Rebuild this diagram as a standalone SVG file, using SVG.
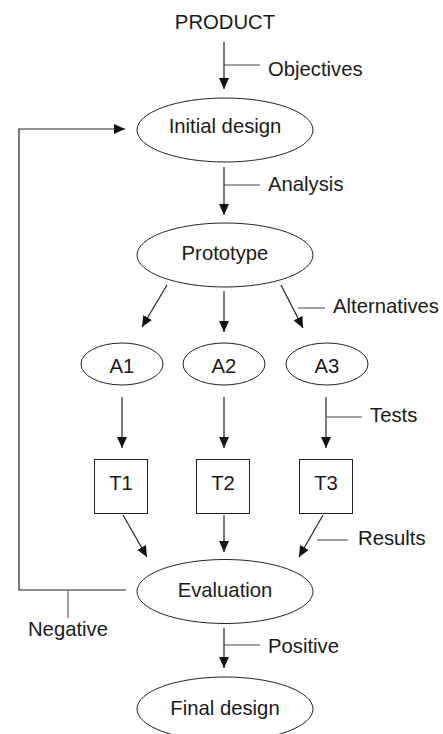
<svg xmlns="http://www.w3.org/2000/svg" width="443" height="734" viewBox="0 0 443 734">
<style>
  .t { font-family: "Liberation Sans", Arial, sans-serif; font-size: 20.3px; fill: #1a1a1a; }
  .c { text-anchor: middle; }
  .shape { fill: #fff; stroke: #222; stroke-width: 1; }
  .ln { fill: none; stroke: #222; stroke-width: 1.2; }
  .tick { fill: none; stroke: #444; stroke-width: 1; }
</style>
<defs>
  <marker id="ah" markerUnits="userSpaceOnUse" markerWidth="12" markerHeight="11" refX="11" refY="5" orient="auto">
    <path d="M0,0 L11,5 L0,10 z" fill="#111"/>
  </marker>
</defs>
<rect width="443" height="734" fill="#fff"/>
<g id="connectors">
  <line class="ln" x1="224" y1="42" x2="224" y2="89" marker-end="url(#ah)"/>
  <polyline class="ln" points="126,590 19,590 19,129 125,129" marker-end="url(#ah)"/>
  <line class="ln" x1="224" y1="167" x2="224" y2="215" marker-end="url(#ah)"/>
  <line class="ln" x1="167" y1="285" x2="142" y2="327" marker-end="url(#ah)"/>
  <line class="ln" x1="224" y1="291" x2="224" y2="332" marker-end="url(#ah)"/>
  <line class="ln" x1="281" y1="285" x2="303" y2="328" marker-end="url(#ah)"/>
  <line class="ln" x1="122" y1="397" x2="122" y2="448" marker-end="url(#ah)"/>
  <line class="ln" x1="224" y1="397" x2="224" y2="448" marker-end="url(#ah)"/>
  <line class="ln" x1="326" y1="397" x2="326" y2="448" marker-end="url(#ah)"/>
  <line class="ln" x1="123" y1="515" x2="147" y2="557" marker-end="url(#ah)"/>
  <line class="ln" x1="224" y1="515" x2="224" y2="552" marker-end="url(#ah)"/>
  <line class="ln" x1="323" y1="515" x2="299" y2="557" marker-end="url(#ah)"/>
  <line class="ln" x1="224" y1="628" x2="224" y2="668" marker-end="url(#ah)"/>
  <line class="tick" x1="224" y1="65" x2="260" y2="65"/>
  <line class="tick" x1="224" y1="185" x2="260" y2="185"/>
  <line class="tick" x1="298" y1="308" x2="325" y2="308"/>
  <line class="tick" x1="326" y1="417" x2="362" y2="417"/>
  <line class="tick" x1="317" y1="540" x2="348" y2="540"/>
  <line class="tick" x1="68" y1="590" x2="68" y2="618"/>
  <line class="tick" x1="224" y1="645" x2="260" y2="645"/>
</g>
<g id="labels">
  <text class="t c" x="225" y="29">PRODUCT</text>
  <text class="t" x="268" y="76">Objectives</text>
  <text class="t" x="268" y="191">Analysis</text>
  <text class="t" x="333" y="313">Alternatives</text>
  <text class="t" x="370" y="422">Tests</text>
  <text class="t" x="358" y="545">Results</text>
  <text class="t c" x="68" y="636">Negative</text>
  <text class="t" x="268" y="653">Positive</text>
</g>
<g id="initial-design">
  <ellipse class="shape" cx="225" cy="130" rx="88" ry="32"/>
  <text class="t c" x="225" y="133">Initial design</text>
</g>
<g id="prototype">
  <ellipse class="shape" cx="225" cy="255" rx="88" ry="32"/>
  <text class="t c" x="225" y="260">Prototype</text>
</g>
<g id="a1">
  <ellipse class="shape" cx="122" cy="364" rx="41" ry="21"/>
  <text class="t c" x="122" y="373">A1</text>
</g>
<g id="a2">
  <ellipse class="shape" cx="224" cy="364" rx="41" ry="21"/>
  <text class="t c" x="224" y="373">A2</text>
</g>
<g id="a3">
  <ellipse class="shape" cx="327" cy="364" rx="41" ry="21"/>
  <text class="t c" x="327" y="373">A3</text>
</g>
<g id="t1">
  <rect class="shape" x="94.5" y="459.5" width="53" height="54"/>
  <text class="t c" x="121" y="490">T1</text>
</g>
<g id="t2">
  <rect class="shape" x="196.5" y="459.5" width="53" height="54"/>
  <text class="t c" x="223" y="490">T2</text>
</g>
<g id="t3">
  <rect class="shape" x="299.5" y="459.5" width="53" height="54"/>
  <text class="t c" x="326" y="490">T3</text>
</g>
<g id="evaluation">
  <ellipse class="shape" cx="225" cy="591.5" rx="88" ry="32"/>
  <text class="t c" x="225" y="597">Evaluation</text>
</g>
<g id="final-design">
  <ellipse class="shape" cx="225" cy="709" rx="88" ry="32"/>
  <text class="t c" x="225" y="715">Final design</text>
</g>
</svg>
